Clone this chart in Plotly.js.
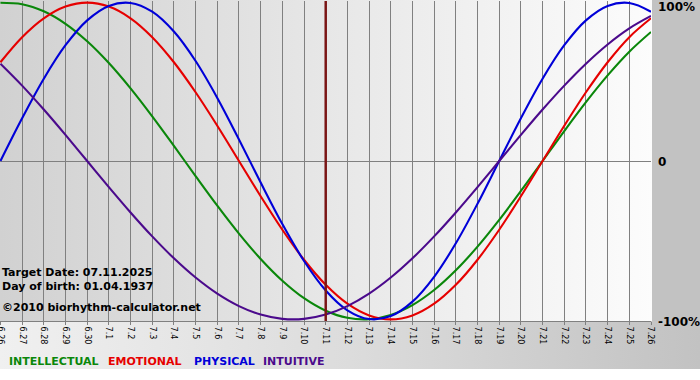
<!DOCTYPE html>
<html>
<head>
<meta charset="utf-8">
<script src="https://cdn.plot.ly/plotly-3.0.1.min.js"></script>
<style>
  html, body { margin: 0; padding: 0; background: #ffffff; }
  #wrap { position: relative; width: 700px; height: 380px; overflow: hidden; background: #ffffff; }
  #bgPlot { position: absolute; left: 0; top: 0; width: 652px; height: 321px;
            background: linear-gradient(to right, #d1d1d1 0%, #e7e7e7 50%, #fcfcfc 100%); }
  #bgRight { position: absolute; left: 652px; top: 0; width: 48px; height: 321px; background: #c2c2c2; }
  #bgBottom { position: absolute; left: 0; top: 321px; width: 700px; height: 48px;
              background: linear-gradient(to right, #f0f0f0 0%, #dcdcdc 50%, #c2c2c2 100%); }
  #chart { position: absolute; left: 0; top: 0; width: 700px; height: 380px; }
</style>
</head>
<body>
<div id="wrap">
  <div id="bgPlot"></div>
  <div id="bgRight"></div>
  <div id="bgBottom"></div>
  <div id="chart"></div>
</div>
<script>
// Day labels (June 26 – July 26, 2025)
const dayLabels = ["6.26","6.27","6.28","6.29","6.30","7.1","7.2","7.3","7.4","7.5","7.6","7.7","7.8","7.9","7.10",
  "7.11","7.12","7.13","7.14","7.15","7.16","7.17","7.18","7.19","7.20","7.21","7.22","7.23","7.24","7.25","7.26"];

// Series values (fraction of 100%)
const intellectual = [0.9989,0.9898,0.9450,0.8660,0.7557,0.6182,0.4582,0.2817,0.0951,-0.0951,-0.2817,-0.4582,-0.6182,
  -0.7557,-0.8660,-0.9450,-0.9898,-0.9989,-0.9718,-0.9096,-0.8146,-0.6901,-0.5406,-0.3717,-0.1893,0.0000,0.1893,0.3717,
  0.5406,0.6901,0.8146];
const emotional = [0.6235,0.7818,0.9010,0.9749,1.0000,0.9749,0.9010,0.7818,0.6235,0.4339,0.2225,0.0000,-0.2225,-0.4339,
  -0.6235,-0.7818,-0.9010,-0.9749,-1.0000,-0.9749,-0.9010,-0.7818,-0.6235,-0.4339,-0.2225,0.0000,0.2225,0.4339,0.6235,
  0.7818,0.9010];
const physical = [0.0000,0.2698,0.5196,0.7308,0.8879,0.9791,0.9977,0.9423,0.8170,0.6311,0.3984,0.1362,-0.1362,-0.3984,
  -0.6311,-0.8170,-0.9423,-0.9977,-0.9791,-0.8879,-0.7308,-0.5196,-0.2698,0.0000,0.2698,0.5196,0.7308,0.8879,0.9791,
  0.9977,0.9423];
const intuitive = [0.6142,0.4759,0.3247,0.1646,0.0000,-0.1646,-0.3247,-0.4759,-0.6142,-0.7357,-0.8372,-0.9158,-0.9694,
  -0.9966,-0.9966,-0.9694,-0.9158,-0.8372,-0.7357,-0.6142,-0.4759,-0.3247,-0.1646,0.0000,0.1646,0.3247,0.4759,0.6142,
  0.7357,0.8372,0.9158];

const seriesNames = ["INTELLECTUAL","EMOTIONAL","PHYSICAL","INTUITIVE"];
const seriesColors = ["#0a870a","#e60000","#0000d8","#4b0a8c"];
const yTickVals = [1, 0, -1];
const yTickText = ["100%", "0", "-100%"];
const targetLabel = "7.11";
const infoLines = ["Target Date: 07.11.2025", "Day of birth: 01.04.1937", "\u00a92010 biorhythm-calculator.net"];

const xIdx = dayLabels.map((_, i) => i);
const allSeries = [intellectual, emotional, physical, intuitive];

const traces = allSeries.map((vals, k) => ({
  type: "scatter", mode: "lines", x: xIdx, y: vals, name: seriesNames[k],
  line: { color: seriesColors[k], width: 2.1, shape: "spline", smoothing: 1 },
  hoverinfo: "skip"
}));

const boldFont = "DejaVu Sans, Verdana, sans-serif";
const annotations = [];
// y tick labels on the right
const yShift = [-4, -1, -3];
yTickVals.forEach((v, i) => annotations.push({
  xref: "paper", yref: "y", x: 1, y: v, xanchor: "left", yanchor: "middle",
  xshift: 5, yshift: yShift[i], showarrow: false, text: "<b>" + yTickText[i] + "</b>",
  font: { family: boldFont, size: 12, color: "#000" }
}));
// info text lower-left
const infoY = [0.153, 0.109, 0.043];
infoLines.forEach((t, i) => annotations.push({
  xref: "paper", yref: "paper", x: 0, y: infoY[i], xanchor: "left", yanchor: "middle",
  xshift: 0, showarrow: false, text: "<b>" + t + "</b>",
  font: { family: boldFont, size: 11, color: "#000" }
}));
// colored legend text
const legX = [0.0105, 0.163, 0.295, 0.401];
seriesNames.forEach((n, i) => annotations.push({
  xref: "paper", yref: "paper", x: legX[i], y: -0.125, xanchor: "left", yanchor: "middle",
  showarrow: false, text: "<b>" + n + "</b>",
  font: { family: boldFont, size: 11, color: seriesColors[i] }
}));

const targetIdx = dayLabels.indexOf(targetLabel);

const layout = {
  width: 700, height: 380,
  margin: { l: 0, r: 49, t: 1, b: 59, pad: 0 },
  paper_bgcolor: "rgba(0,0,0,0)", plot_bgcolor: "rgba(0,0,0,0)",
  showlegend: false,
  xaxis: {
    range: [-0.02, 30], tickmode: "array", tickvals: xIdx, ticktext: dayLabels,
    tickangle: 90, ticks: "outside", ticklen: 3, tickcolor: "#808080",
    ticklabeloverflow: "allow",
    showgrid: true, gridcolor: "#808080", gridwidth: 1,
    showline: true, linecolor: "#808080", linewidth: 1,
    zeroline: false, fixedrange: true,
    tickfont: { family: "DejaVu Sans, Verdana, sans-serif", size: 8, color: "#000" }
  },
  yaxis: {
    range: [-1.01, 1.01], showgrid: false, showticklabels: false, ticks: "",
    zeroline: true, zerolinecolor: "#808080", zerolinewidth: 1, fixedrange: true
  },
  shapes: [{
    type: "line", xref: "x", yref: "paper", x0: targetIdx, x1: targetIdx, y0: 0, y1: 1,
    line: { color: "#7a1616", width: 2.5 }, layer: "above"
  }],
  annotations: annotations
};

Plotly.newPlot("chart", traces, layout, { staticPlot: true, displayModeBar: false });
</script>
</body>
</html>
